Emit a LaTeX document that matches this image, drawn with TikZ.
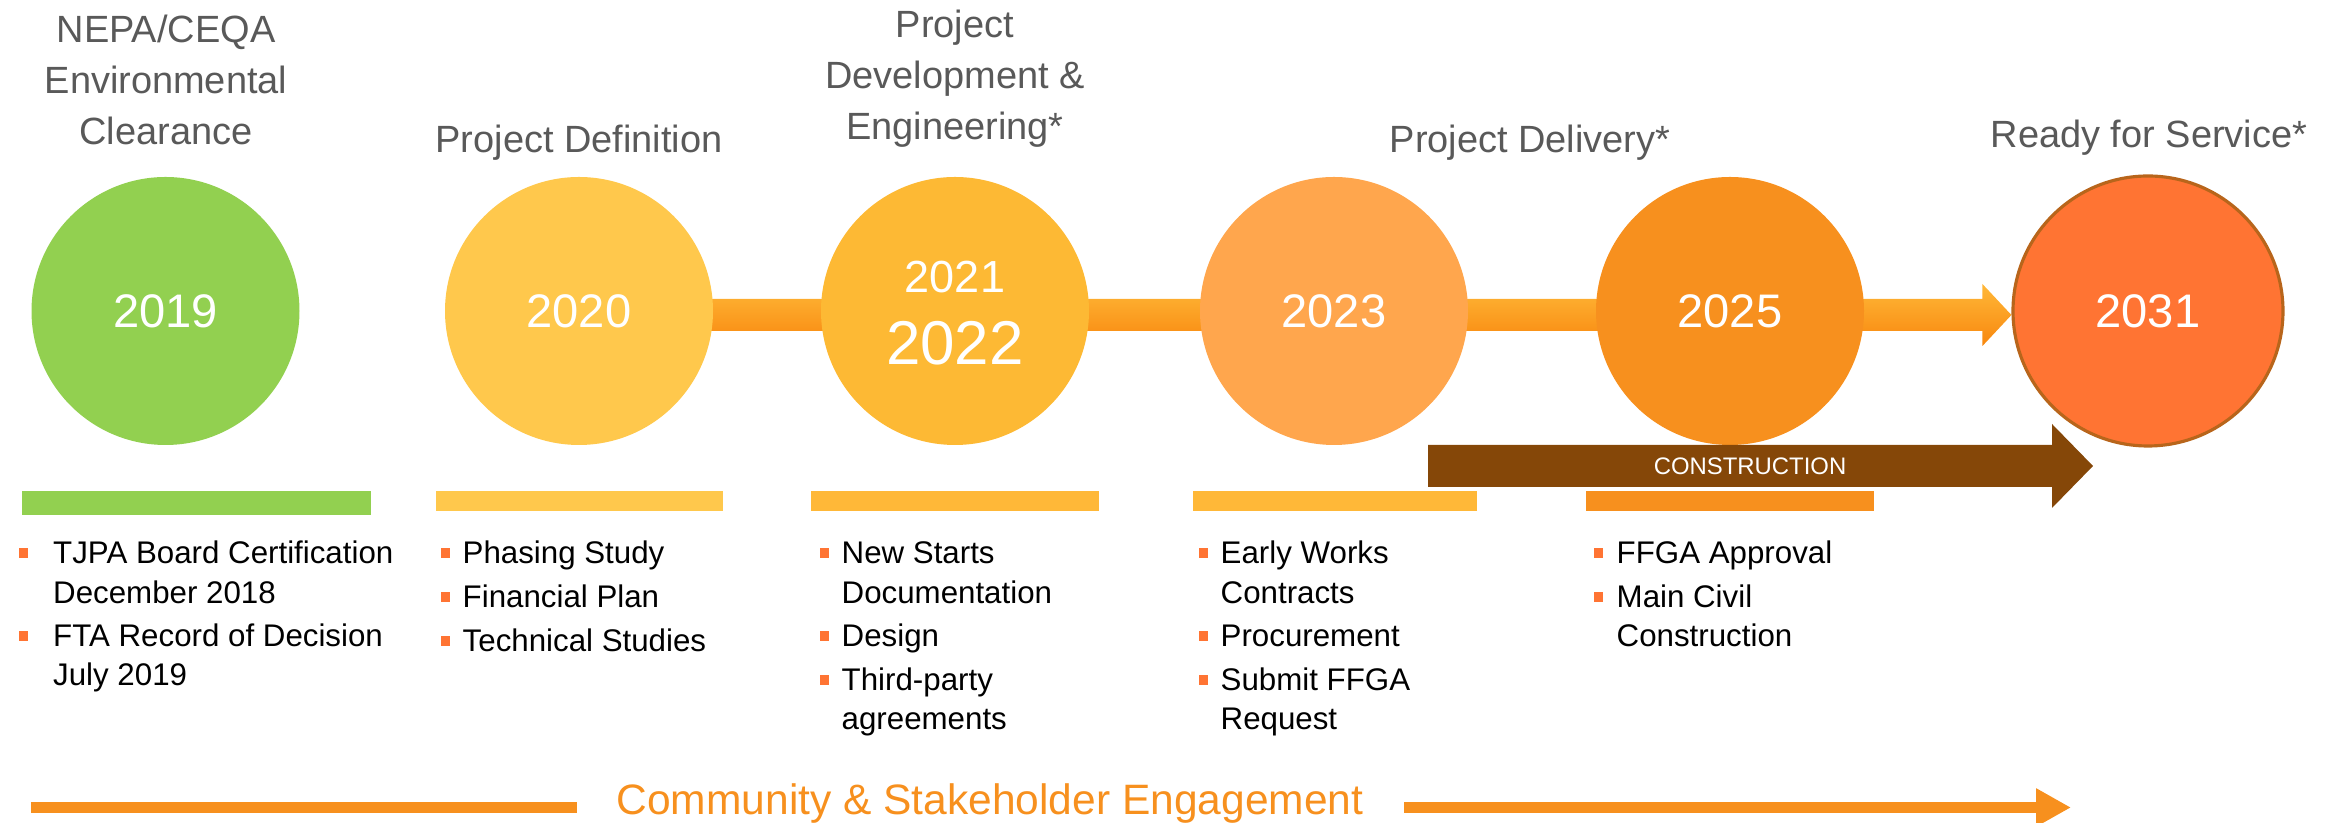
\documentclass[tikz,border=0pt]{standalone}
\usepackage{fontspec}
\setmainfont{Liberation Sans}
\usepackage{xcolor}
\usetikzlibrary{arrows.meta, calc, backgrounds}

\definecolor{headgray}{HTML}{595959}
\definecolor{green19}{HTML}{92D050}
\definecolor{yellow20}{HTML}{FFC84C}
\definecolor{yellow21}{HTML}{FDB934}
\definecolor{orange23}{HTML}{FFA64D}
\definecolor{orange25}{HTML}{F7901E}
\definecolor{red31}{HTML}{FF7433}
\definecolor{rim31}{HTML}{B8651B}
\definecolor{builtbrown}{HTML}{854708}
\definecolor{bulletred}{HTML}{FF7433}
\definecolor{pathyellow}{HTML}{FFB838}
\definecolor{pathorange}{HTML}{F8870E}

\newcommand{\bul}{\textcolor{bulletred}{\rule[0.06cm]{0.09cm}{0.10cm}}}

\begin{document}
\begin{tikzpicture}[
  year/.style={circle, minimum size=2.68cm, inner sep=0pt, text=white, font=\fontsize{13.4}{16}\selectfont},
  phase/.style={text=headgray, font=\fontsize{10.8}{14.5}\selectfont, inner sep=0pt, anchor=base},
  items/.style={font=\fontsize{8.9}{11.1}\selectfont, inner sep=0pt, anchor=base west},
]
%\draw[step=1cm,gray,very thin] (0,0) grid (23,8); %background grid
\useasboundingbox (0,0) rectangle (23.31,8.23);

% phase titles
\node[phase] (t2019) at (1.66,7.80) {\begin{tabular}[t]{@{}c@{}}NEPA/CEQA\\Environmental\\Clearance\end{tabular}};
\node[phase] (t2020) at (5.79,6.70) {Project Definition};
\node[phase] (t2021) at (9.55,7.85) {\begin{tabular}[t]{@{}c@{}}Project\\Development \&\\Engineering*\end{tabular}};
\node[phase] (tdelivery) at (15.30,6.70) {Project Delivery*};
\node[phase] (t2031) at (21.49,6.75) {Ready for Service*};

% year circles
\node[year, fill=green19]  (c2019) at (1.655,5.12) {2019};
\node[year, fill=yellow20] (c2020) at (5.79,5.12)  {2020};
\node[year, fill=yellow21] (c2021) at (9.55,5.12)  {};
\node[text=white, inner sep=0pt, anchor=base, font=\fontsize{12.8}{15}\selectfont] (y2021) at (9.55,5.30) {2021};
\node[text=white, inner sep=0pt, anchor=base, font=\fontsize{17.6}{20}\selectfont] (y2022) at (9.55,4.58) {2022};
\node[year, fill=orange23] (c2023) at (13.34,5.12) {2023};
\node[year, fill=orange25] (c2025) at (17.30,5.12) {2025};
\node[year, fill=red31, draw=rim31, line width=0.9pt, minimum size=2.70cm] (c2031) at (21.48,5.12) {2031};

% timeline arrow behind the circles
\begin{pgfonlayer}{background}
\shade[top color=pathyellow, middle color=orange23, bottom color=pathorange]
  ($(c2020.center)+(0,0.12)$) -- ($(c2031.west)+(-0.29,0.12)$) -- ($(c2031.west)+(-0.29,0.27)$)
  -- ($(c2031.west)+(0,-0.04)$) -- ($(c2031.west)+(-0.29,-0.35)$) -- ($(c2031.west)+(-0.29,-0.20)$)
  -- ($(c2020.center)+(0,-0.20)$) -- cycle;
\end{pgfonlayer}

% construction arrow
\fill[builtbrown] (14.28,3.36) -- (20.52,3.36) -- (20.52,3.15) -- (20.93,3.57) -- (20.52,3.99) -- (20.52,3.78) -- (14.28,3.78) -- cycle;
\node[text=white, inner sep=0pt, font=\fontsize{6.8}{8}\selectfont] (build) at (17.50,3.57) {CONSTRUCTION};

% colour bars
\fill[green19]    (0.22,3.08)  rectangle (3.71,3.32);
\fill[yellow20]   (4.36,3.12)  rectangle (7.23,3.32);
\fill[pathyellow] (8.11,3.12)  rectangle (10.99,3.32);
\fill[pathyellow] (11.93,3.12) rectangle (14.77,3.32);
\fill[orange25]   (15.86,3.12) rectangle (18.74,3.32);

% bullet lists
\node[items] (l2019) at (0.18,2.59) {\begin{tabular}[t]{@{}l@{\hspace{0.255cm}}l@{}}
\bul & TJPA Board Certification\\ & December 2018\\[1.4pt]
\bul & FTA Record of Decision\\ & July 2019\end{tabular}};
\node[items] (l2020) at (4.40,2.59) {\begin{tabular}[t]{@{}l@{\hspace{0.13cm}}l@{}}
\bul & Phasing Study\\[1.4pt]
\bul & Financial Plan\\[1.4pt]
\bul & Technical Studies\end{tabular}};
\node[items] (l2021) at (8.19,2.59) {\begin{tabular}[t]{@{}l@{\hspace{0.13cm}}l@{}}
\bul & New Starts\\ & Documentation\\[1.4pt]
\bul & Design\\[1.4pt]
\bul & Third-party\\ & agreements\end{tabular}};
\node[items] (l2023) at (11.98,2.59) {\begin{tabular}[t]{@{}l@{\hspace{0.13cm}}l@{}}
\bul & Early Works\\ & Contracts\\[1.4pt]
\bul & Procurement\\[1.4pt]
\bul & Submit FFGA\\ & Request\end{tabular}};
\node[items] (l2025) at (15.93,2.59) {\begin{tabular}[t]{@{}l@{\hspace{0.14cm}}l@{}}
\bul & FFGA Approval\\[1.4pt]
\bul & Main Civil\\ & Construction\end{tabular}};

% engagement line
\node[text=orange25, inner sep=0pt, anchor=base, font=\fontsize{12.1}{14}\selectfont] (engage) at (9.90,0.08) {Community \& Stakeholder Engagement};
\coordinate (engageL) at (0.31,0.155);
\coordinate (engageR) at (20.71,0.155);
\draw[orange25, line width=0.11cm] (engageL) -- ($(engageL -| engage.west)+(-0.39,0)$);
\draw[orange25, line width=0.11cm, -{Triangle[length=0.35cm,width=0.36cm]}] ($(engageR -| engage.east)+(0.40,0)$) -- (engageR);

\end{tikzpicture}
\end{document}
